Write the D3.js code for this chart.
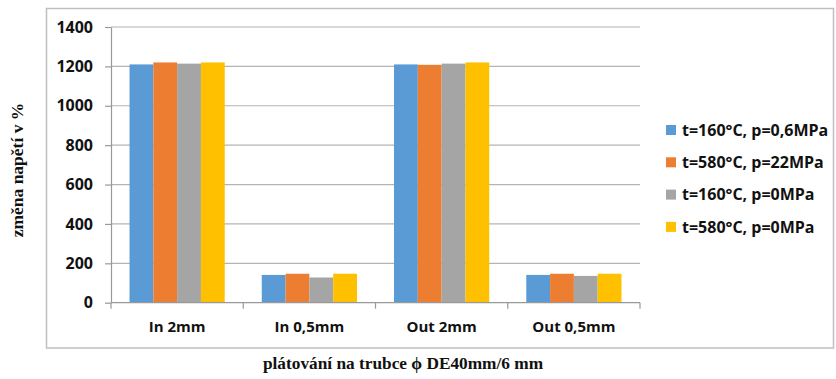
<!DOCTYPE html>
<html>
<head>
<meta charset="utf-8">
<script src="https://cdn.jsdelivr.net/npm/d3@7"></script>
<style>
  html, body { margin: 0; padding: 0; background: #fff; }
  svg { display: block; }
</style>
</head>
<body>
<svg id="chart" width="836" height="379"></svg>
<script>
// Clad tube samples and the four test conditions
const categories = ["In 2mm", "In 0,5mm", "Out 2mm", "Out 0,5mm"];
const seriesNames = ["t=160°C, p=0,6MPa", "t=580°C, p=22MPa", "t=160°C, p=0MPa", "t=580°C, p=0MPa"];
const seriesColors = ["#5b9bd5", "#ed7d31", "#a5a5a5", "#ffc000"];
const s160_06 = [1210, 141, 1210, 141];
const s580_22 = [1220, 147, 1208, 147];
const s160_0  = [1214, 128, 1214, 136];
const s580_0  = [1220, 147, 1220, 147];
const yTicks = [0, 200, 400, 600, 800, 1000, 1200, 1400];
const yTitle = "změna napětí v %";
const xTitle = "plátování na trubce ϕ DE40mm/6 mm";

const seriesValues = [s160_06, s580_22, s160_0, s580_0];

const svg = d3.select("#chart");
const plot = { left: 111, right: 640, top: 27, bottom: 302.7 };
const sans = "'Open Sans', sans-serif";
const serif = "'Liberation Serif', 'Times New Roman', serif";

// outer chart frame
svg.append("rect")
  .attr("x", 46.5).attr("y", 8.5)
  .attr("width", 787).attr("height", 339.5)
  .attr("fill", "none").attr("stroke", "#bfbfbf").attr("stroke-width", 1.5);

const x = d3.scaleBand().domain(categories).range([plot.left, plot.right])
  .paddingInner(0.28).paddingOuter(0.14);
const xs = d3.scaleBand().domain(d3.range(seriesNames.length)).range([0, x.bandwidth()]);
const y = d3.scaleLinear().domain([0, 1400]).range([plot.bottom, plot.top]);

// horizontal gridlines
svg.append("g").selectAll("line").data(yTicks.filter(d => d > 0)).join("line")
  .attr("x1", plot.left).attr("x2", plot.right)
  .attr("y1", d => y(d)).attr("y2", d => y(d))
  .attr("stroke", "#b4b4b4").attr("stroke-width", 1.2);

// bars
const groups = svg.append("g").selectAll("g").data(categories).join("g")
  .attr("transform", c => `translate(${x(c)},0)`);
groups.selectAll("rect")
  .data((c, ci) => seriesValues.map((vals, si) => ({ si, v: vals[ci] })))
  .join("rect")
  .attr("x", d => xs(d.si))
  .attr("width", xs.bandwidth())
  .attr("y", d => y(d.v))
  .attr("height", d => y(0) - y(d.v))
  .attr("fill", d => seriesColors[d.si]);

// y axis
const yAxis = svg.append("g").attr("transform", `translate(${plot.left},0)`)
  .call(d3.axisLeft(y).tickValues(yTicks).tickFormat(d3.format("d"))
    .tickSize(6).tickPadding(12).tickSizeOuter(0));
yAxis.select(".domain").attr("stroke", "#999").attr("stroke-width", 1.2);
yAxis.selectAll(".tick line").attr("stroke", "#999").attr("stroke-width", 1.2);
yAxis.selectAll(".tick text")
  .attr("font-family", sans).attr("font-weight", "bold")
  .attr("font-size", 16).attr("fill", "#111");

// x axis with category boundary ticks
const xAxisG = svg.append("g");
xAxisG.append("line")
  .attr("x1", plot.left).attr("x2", plot.right)
  .attr("y1", plot.bottom).attr("y2", plot.bottom)
  .attr("stroke", "#999").attr("stroke-width", 1.2);
const boundaries = categories.map(c => x(c) - x.step() * x.paddingInner() / 2).concat([plot.right]);
boundaries[0] = plot.left;
xAxisG.selectAll("line.b").data(boundaries).join("line").attr("class", "b")
  .attr("x1", d => d).attr("x2", d => d)
  .attr("y1", plot.bottom).attr("y2", plot.bottom + 6)
  .attr("stroke", "#999").attr("stroke-width", 1.2);
xAxisG.selectAll("text").data(categories).join("text")
  .attr("x", c => x(c) + x.bandwidth() / 2)
  .attr("y", 327).attr("dy", "0.35em")
  .attr("text-anchor", "middle")
  .attr("font-family", sans).attr("font-weight", "bold")
  .attr("font-size", 15).attr("fill", "#111")
  .text(c => c);

// axis titles
svg.append("text")
  .attr("transform", "translate(23,170) rotate(-90)")
  .attr("text-anchor", "middle")
  .attr("font-family", serif).attr("font-weight", "bold")
  .attr("font-size", 17.5).attr("fill", "#111")
  .text(yTitle);
svg.append("text")
  .attr("x", 403).attr("y", 369)
  .attr("text-anchor", "middle")
  .attr("font-family", serif).attr("font-weight", "bold")
  .attr("font-size", 17.3).attr("fill", "#111")
  .text(xTitle);

// legend
const legend = svg.append("g").selectAll("g").data(seriesNames).join("g")
  .attr("transform", (d, i) => `translate(666,${130 + i * 32.3})`);
legend.append("rect")
  .attr("x", 0).attr("y", -5).attr("width", 10).attr("height", 10)
  .attr("fill", (d, i) => seriesColors[i]);
legend.append("text")
  .attr("x", 16).attr("y", 0).attr("dy", "0.35em")
  .attr("font-family", sans).attr("font-weight", "bold")
  .attr("font-size", 16).attr("fill", "#111")
  .text(d => d);
</script>
</body>
</html>
